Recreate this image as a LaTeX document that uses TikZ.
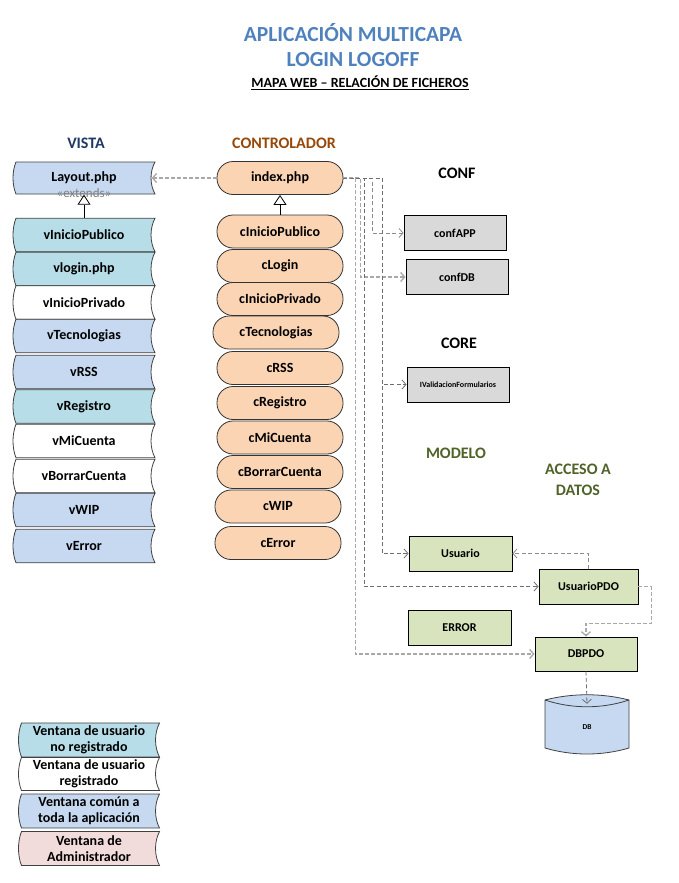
\documentclass[tikz,border=0pt]{standalone}
\usepackage{fontspec}
\setmainfont{Carlito}
\usetikzlibrary{arrows.meta,calc}

\definecolor{ttlblue}{HTML}{4F81BD}
\definecolor{vistacol}{HTML}{1F3864}
\definecolor{ctrlcol}{HTML}{984807}
\definecolor{olive}{HTML}{4F6228}
\definecolor{fteal}{HTML}{B7DEE8}
\definecolor{fblue}{HTML}{C6D9F1}
\definecolor{fpink}{HTML}{F2DCDB}
\definecolor{fpeach}{HTML}{FBD4B4}
\definecolor{fgray}{HTML}{D9D9D9}
\definecolor{fgreen}{HTML}{D7E4BD}
\definecolor{dashdark}{HTML}{6E6E6E}
\definecolor{dashlight}{HTML}{A8A8A8}

\tikzset{
  % "stored data" window shape: left side bulges out, right side curves in
  stored/.style={inner sep=0pt, minimum width=143pt, minimum height=34.5pt,
    font=\bfseries\fontsize{14}{16}\selectfont, align=center,
    path picture={
      \draw[draw=black!75, line width=0.8pt, fill=#1]
        let \p1=(path picture bounding box.north west),
            \p2=(path picture bounding box.south east) in
        (\x1+3.5pt,\y1-0.5pt) -- (\x2-0.5pt,\y1-0.5pt)
        .. controls (\x2-5.8pt,{\y1-0.3*(\y1-\y2)}) and (\x2-5.8pt,{\y2+0.3*(\y1-\y2)}) .. (\x2-0.5pt,\y2+0.5pt)
        -- (\x1+3.5pt,\y2+0.5pt)
        .. controls (\x1-0.5pt,{\y2+0.3*(\y1-\y2)}) and (\x1-0.5pt,{\y1-0.3*(\y1-\y2)}) .. cycle;
    }},
  pill/.style={rectangle, rounded corners=16pt, draw=black!80, line width=0.8pt,
    fill=fpeach, minimum width=126pt, minimum height=33pt, inner sep=0pt,
    font=\bfseries\fontsize{14}{16}\selectfont},
  filebox/.style={rectangle, draw=black, line width=0.9pt, minimum width=102pt,
    minimum height=35pt, inner sep=0pt, font=\bfseries\fontsize{12}{14}\selectfont},
  hdr/.style={font=\bfseries\fontsize{16}{19}\selectfont, align=center},
  extlabel/.style={text=black!50, font=\fontsize{13}{15}\selectfont, inner sep=0pt},
  gen/.style={line width=0.8pt, -{Triangle[open, fill=white, length=10pt, width=13pt]}},
  depdark/.style={draw=dashdark, line width=0.8pt, dash pattern=on 4pt off 2.5pt,
    -{Straight Barb[length=4pt, width=9pt]}},
  deplight/.style={draw=dashlight, line width=1.3pt, dash pattern=on 4pt off 2pt,
    -{Straight Barb[length=4pt, width=9pt]}},
}

\begin{document}
\begin{tikzpicture}[x=1pt, y=-1pt]
\path[use as bounding box] (0,0) rectangle (678,883);

% titles
\node[font=\bfseries\fontsize{21.5}{25}\selectfont, text=ttlblue, align=center] (title) at (353,45.5)
  {APLICACIÓN MULTICAPA\\LOGIN LOGOFF};
\node[font=\bfseries\fontsize{14}{16}\selectfont] (subtitle) at (360,83)
  {\underline{MAPA WEB – RELACIÓN DE FICHEROS}};

% column headers
\node[hdr, text=vistacol] (hvista) at (86,143) {VISTA};
\node[hdr, text=ctrlcol] (hctrl) at (284,143) {CONTROLADOR};
\node[hdr] (hconf) at (457,173) {CONF};
\node[hdr] (hcore) at (459,343) {CORE};
\node[hdr, text=olive] (hmodelo) at (456,453) {MODELO};
\node[hdr, text=olive, font=\bfseries\fontsize{16}{21}\selectfont] (hacceso) at (578,480) {ACCESO A\\DATOS};

% view layer
\node[stored=fblue, minimum height=33pt] (layout) at (84,178) {Layout.php};
\node[extlabel] (extL) at (84,193) {«extends»};
\node[stored=fteal] (vinipub) at (84,235) {vInicioPublico};
\node[stored=fteal] (vlogin) at (84,269) {vlogin.php};
\node[stored=white] (viniprv) at (84,302.5) {vInicioPrivado};
\node[stored=fblue] (vtec) at (84,336) {vTecnologias};
\node[stored=fblue] (vrss) at (84,372) {vRSS};
\node[stored=fteal] (vreg) at (84,406.5) {vRegistro};
\node[stored=white] (vcuenta) at (84,441) {vMiCuenta};
\node[stored=white] (vborrar) at (84,476) {vBorrarCuenta};
\node[stored=fblue] (vwip) at (84,510) {vWIP};
\node[stored=fblue] (verror) at (84,546) {vError};

% controller layer
\node[extlabel] (extC) at (280,188) {«extends»};
\node[pill] (index) at (280,178) {index.php};
\node[pill] (cinipub) at (280,231.5) {cInicioPublico};
\node[pill] (clogin) at (280,266) {cLogin};
\node[pill] (ciniprv) at (280,299) {cInicioPrivado};
\node[pill] (ctec) at (276,332.5) {cTecnologias};
\node[pill] (crss) at (280,368) {cRSS};
\node[pill] (creg) at (280,403) {cRegistro};
\node[pill] (ccuenta) at (280,437.5) {cMiCuenta};
\node[pill] (cborrar) at (280,472) {cBorrarCuenta};
\node[pill] (cwip) at (278,506.5) {cWIP};
\node[pill] (cerror) at (278,543) {cError};

% configuration, core, model and data access
\node[filebox, fill=fgray] (confapp) at (455,233) {confAPP};
\node[filebox, fill=fgray] (confdb) at (457,277) {confDB};
\node[filebox, fill=fgray, font=\bfseries\fontsize{8}{10}\selectfont] (valid) at (458,384.5) {IValidacionFormularios};
\node[filebox, fill=fgreen, minimum width=103pt] (usuario) at (460.5,553.5) {Usuario};
\node[filebox, fill=fgreen, minimum width=99pt] (usuariopdo) at (588.5,586.5) {UsuarioPDO};
\node[filebox, fill=fgreen, minimum width=103pt] (errorm) at (459.5,627.5) {ERROR};
\node[filebox, fill=fgreen, minimum height=34pt] (dbpdo) at (586,654) {DBPDO};

% database cylinder
\draw[draw=black!75, line width=0.8pt, fill=fblue]
  (545,700) .. controls (572,693) and (602,693) .. (629,700)
  -- (629,748) .. controls (602,756) and (572,756) .. (545,748) -- cycle;
\draw[draw=black!75, line width=0.8pt] (545,700) .. controls (572,709) and (602,709) .. (629,700);
\node[minimum width=84pt, minimum height=46pt, inner sep=0pt, font=\bfseries\fontsize{7.5}{9}\selectfont] (db) at (587,727) {DB};

% legend
\node[stored=fteal, minimum width=142pt, minimum height=35pt] (legnr) at (89,740) {Ventana de usuario\\no registrado};
\node[stored=white, minimum width=142pt, minimum height=34pt] (legr) at (89,774) {Ventana de usuario\\registrado};
\node[stored=fblue, minimum width=142pt, minimum height=35pt] (legc) at (89,811) {Ventana común a\\toda la aplicación};
\node[stored=fpink, minimum width=142pt, minimum height=35pt] (lega) at (89,848.5) {Ventana de\\Administrador};

% inheritance
\draw[gen] (vinipub.north) -- (layout.south);
\draw[gen] (cinipub.north) -- (index.south);

% dependencies of the front controller
\draw[deplight] (index.west) -- ([xshift=-4pt]layout.east);
\draw[deplight] (index.east) -- ++(12,0) |- (dbpdo.west);
\draw[deplight] (index.east) -- ++(17,0) |- (confdb.west);
\draw[depdark] (index.east) -- ++(21,0) |- (usuariopdo.west);
\draw[depdark, draw=dashdark!80] (index.east) -- ++(29,0) |- (confapp.west);
\draw[depdark] (index.east) -- ++(39,0) |- (valid.west);
\draw[depdark] (index.east) -- ++(39,0) |- (usuario.west);

% data access dependencies
\draw[depdark, draw=dashdark!80] (usuariopdo.north) |- (usuario.east);
\draw[deplight] (usuariopdo.east) -- ++(13,0) -- ++(0,37) -| (dbpdo.north);
\draw[depdark] (dbpdo.south) -- (db.north);
\end{tikzpicture}
\end{document}
